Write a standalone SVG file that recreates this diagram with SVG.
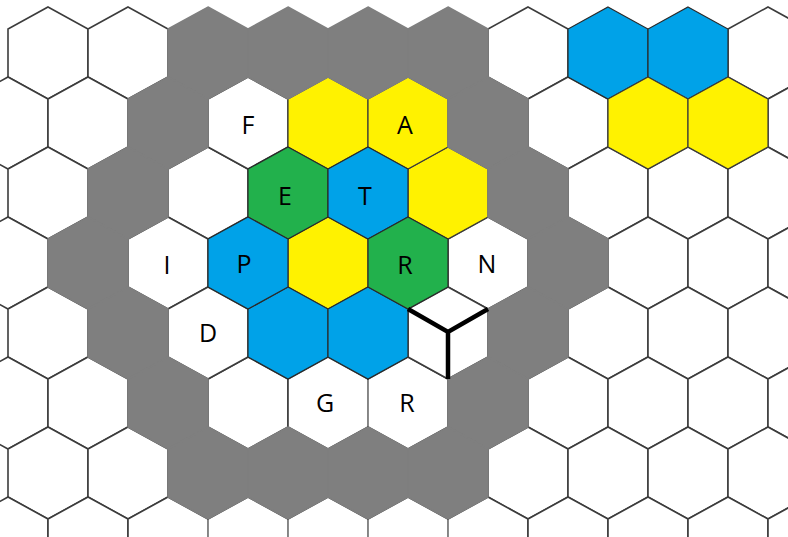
<svg xmlns="http://www.w3.org/2000/svg" xmlns:xlink="http://www.w3.org/1999/xlink" width="788" height="537" viewBox="0 0 788 537">
<defs>
<polygon id="h" points="0,-46 40,-24 40,24 0,46 -40,24 -40,-24"/>
</defs>
<style>
.w{fill:#ffffff;stroke:#3c3c3c;stroke-width:1.6}
.g{fill:#7f7f7f;stroke:#7f7f7f;stroke-width:1.5}
.y{fill:#fff200;stroke:#3a3a3a;stroke-width:1.2}
.b{fill:#00a2e8;stroke:#2a2a2a;stroke-width:1.2}
.n{fill:#22b14c;stroke:#2a2a2a;stroke-width:1.2}
.lt{stroke:#9a9a9a;stroke-width:1.5;fill:none}
.t{font-family:"Open Sans","Noto Sans","Liberation Sans",sans-serif;font-size:25px;fill:#000;text-anchor:middle}
</style>
<rect width="788" height="537" fill="#ffffff"/>
<g id="white-cells">
<use href="#h" class="w" x="48" y="53"/><use href="#h" class="w" x="128" y="53"/><use href="#h" class="w" x="528" y="53"/><use href="#h" class="w" x="768" y="53"/>
<use href="#h" class="w" x="8" y="123"/><use href="#h" class="w" x="88" y="123"/><use href="#h" class="w" x="568" y="123"/><use href="#h" class="w" x="808" y="123"/>
<use href="#h" class="w" x="48" y="193"/><use href="#h" class="w" x="208" y="193"/><use href="#h" class="w" x="608" y="193"/><use href="#h" class="w" x="688" y="193"/><use href="#h" class="w" x="768" y="193"/>
<use href="#h" class="w" x="8" y="263"/><use href="#h" class="w" x="648" y="263"/><use href="#h" class="w" x="728" y="263"/><use href="#h" class="w" x="808" y="263"/>
<use href="#h" class="w" x="48" y="333"/><use href="#h" class="w" x="608" y="333"/><use href="#h" class="w" x="688" y="333"/><use href="#h" class="w" x="768" y="333"/>
<use href="#h" class="w" x="8" y="403"/><use href="#h" class="w" x="88" y="403"/><use href="#h" class="w" x="248" y="403"/><use href="#h" class="w" x="568" y="403"/><use href="#h" class="w" x="648" y="403"/><use href="#h" class="w" x="728" y="403"/><use href="#h" class="w" x="808" y="403"/>
<use href="#h" class="w" x="48" y="473"/><use href="#h" class="w" x="128" y="473"/><use href="#h" class="w" x="528" y="473"/><use href="#h" class="w" x="608" y="473"/><use href="#h" class="w" x="688" y="473"/><use href="#h" class="w" x="768" y="473"/>
<use href="#h" class="w" x="8" y="543"/><use href="#h" class="w" x="88" y="543"/><use href="#h" class="w" x="168" y="543"/><use href="#h" class="w" x="248" y="543"/><use href="#h" class="w" x="328" y="543"/><use href="#h" class="w" x="408" y="543"/><use href="#h" class="w" x="488" y="543"/><use href="#h" class="w" x="568" y="543"/><use href="#h" class="w" x="648" y="543"/><use href="#h" class="w" x="728" y="543"/><use href="#h" class="w" x="808" y="543"/>
</g>
<g id="cell-F"><use href="#h" class="w" x="248" y="123"/><text class="t" x="248" y="134">F</text></g>
<g id="cell-I"><use href="#h" class="w" x="168" y="263"/><text class="t" x="167" y="274">I</text></g>
<g id="cell-N"><use href="#h" class="w" x="488" y="263"/><text class="t" x="487" y="273">N</text></g>
<g id="cell-D"><use href="#h" class="w" x="208" y="333"/><text class="t" x="208" y="342">D</text></g>
<g id="cell-G"><use href="#h" class="w" x="328" y="403"/><text class="t" x="325" y="412">G</text></g>
<g id="cell-R2"><use href="#h" class="w" x="408" y="403"/><text class="t" x="407" y="412">R</text></g>
<g id="cell-cube"><use href="#h" class="w" x="448" y="333"/></g>
<g id="colored-cells">
<use href="#h" class="b" x="608" y="53"/><use href="#h" class="b" x="688" y="53"/>
<use href="#h" class="y" x="648" y="123"/><use href="#h" class="y" x="728" y="123"/>
<use href="#h" class="y" x="328" y="123"/>
<use href="#h" class="y" x="448" y="193"/>
<use href="#h" class="y" x="328" y="263"/>
<use href="#h" class="b" x="288" y="333"/><use href="#h" class="b" x="368" y="333"/>
</g>
<g id="cell-A"><use href="#h" class="y" x="408" y="123"/><text class="t" x="405" y="134">A</text></g>
<g id="cell-E"><use href="#h" class="n" x="288" y="193"/><text class="t" x="285" y="205">E</text></g>
<g id="cell-T"><use href="#h" class="b" x="368" y="193"/><text class="t" x="365" y="205">T</text></g>
<g id="cell-P"><use href="#h" class="b" x="248" y="263"/><text class="t" x="244" y="273">P</text></g>
<g id="cell-R"><use href="#h" class="n" x="408" y="263"/><text class="t" x="405" y="274">R</text></g>
<g id="gray-ring">
<use href="#h" class="g" x="208" y="53"/><use href="#h" class="g" x="288" y="53"/><use href="#h" class="g" x="368" y="53"/><use href="#h" class="g" x="448" y="53"/>
<use href="#h" class="g" x="168" y="123"/><use href="#h" class="g" x="488" y="123"/>
<use href="#h" class="g" x="128" y="193"/><use href="#h" class="g" x="528" y="193"/>
<use href="#h" class="g" x="88" y="263"/><use href="#h" class="g" x="568" y="263"/>
<use href="#h" class="g" x="128" y="333"/><use href="#h" class="g" x="528" y="333"/>
<use href="#h" class="g" x="168" y="403"/><use href="#h" class="g" x="488" y="403"/>
<use href="#h" class="g" x="208" y="473"/><use href="#h" class="g" x="288" y="473"/><use href="#h" class="g" x="368" y="473"/><use href="#h" class="g" x="448" y="473"/>
</g>
<g id="light-lines">
<path class="lt" d="M368,380V426M208,520V537M288,520V537M368,520V537M448,520V537"/>
</g>
<g id="connectors">
<path d="M408,309L448,332L488,309M448,332V379" fill="none" stroke="#000" stroke-width="4.5" stroke-linejoin="miter"/>
</g>
</svg>
